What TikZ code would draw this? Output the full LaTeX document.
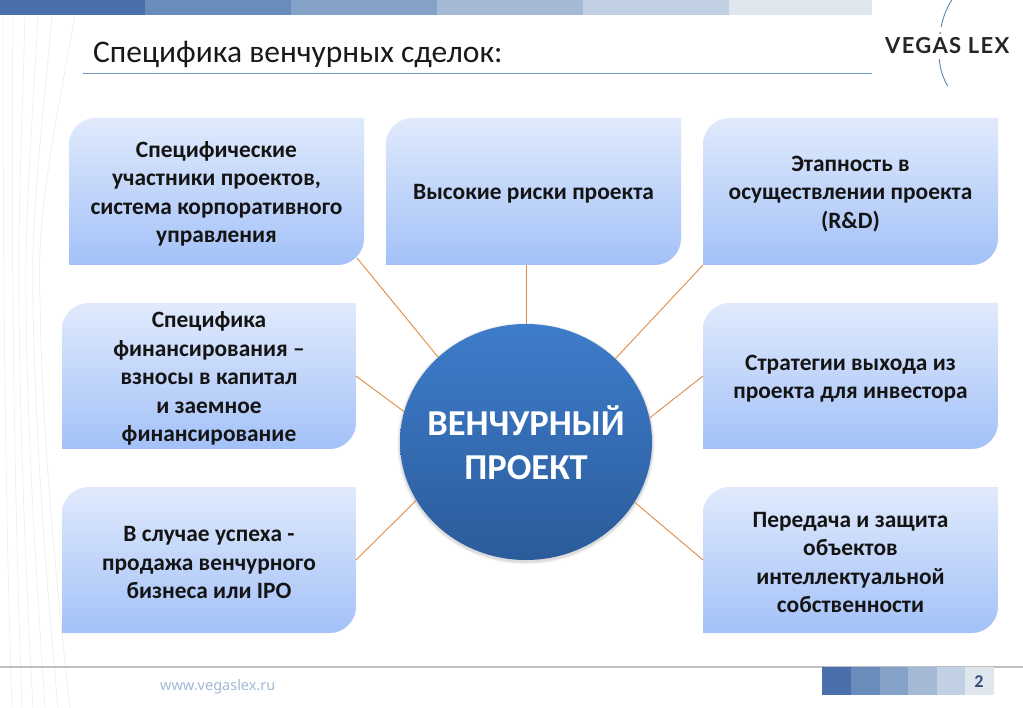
\documentclass[tikz,border=0pt]{standalone}
\usepackage{fontspec}
\setmainfont{Carlito}
\newfontfamily\logofont[LetterSpace=6]{Lato}
\newfontfamily\webfont{Noto Sans}
\usetikzlibrary{shapes.geometric}
\definecolor{boxtop}{HTML}{E0EAFC}
\definecolor{boxbottom}{HTML}{A3C1F8}
\definecolor{hubtop}{HTML}{3E7DCB}
\definecolor{hubbottom}{HTML}{2B5B9A}
\definecolor{linkc}{HTML}{E08B45}
\definecolor{stripeA}{HTML}{4A70AB}
\definecolor{stripeB}{HTML}{6A8CBB}
\definecolor{stripeC}{HTML}{84A2C8}
\definecolor{stripeD}{HTML}{A3B9D5}
\definecolor{stripeE}{HTML}{C1D1E3}
\definecolor{stripeF}{HTML}{DFE6EE}
\definecolor{ruleblue}{HTML}{6F9AC8}
\definecolor{arcblue}{HTML}{5F87AE}
\tikzset{
  boxfill/.style={top color=boxtop,bottom color=boxbottom,draw=none},
  boxlabel/.style={align=center,inner sep=0pt,font=\fontsize{23.4}{28.4}\selectfont\bfseries,text=black!92},
  hubnode/.style={ellipse,inner sep=0pt,minimum width=252pt,minimum height=236pt,top color=hubtop,bottom color=hubbottom},
  hublabel/.style={text=white,align=center,inner sep=0pt,font=\fontsize{36.5}{44.5}\selectfont\bfseries},
  link/.style={draw=linkc,line width=0.9pt},
  bgline/.style={line width=0.5pt,draw=#1},
}
\newcommand{\slidebox}[6]{%
  \pgfmathsetmacro{\bw}{#4-#2}\pgfmathsetmacro{\bh}{#5-#3}%
  \pgfmathsetmacro{\bcx}{(#4+#2)/2}\pgfmathsetmacro{\bcy}{(#5+#3)/2}%
  \pgfmathsetmacro{\bty}{\bcy+2.5}%
  \shade[boxfill] (#2,#5) -- ({#2},{#3+26}) .. controls +(0,-14) and +(-14,0) .. ({#2+26},{#3})
     -- (#4,#3) -- ({#4},{#5-26}) .. controls +(0,14) and +(14,0) .. ({#4-26},{#5}) -- cycle;
  \node[minimum width=\bw pt,minimum height=\bh pt,inner sep=0pt,outer sep=0pt] (#1) at (\bcx,\bcy) {};
  \node[boxlabel] (#1text) at (\bcx,\bty) {#6};
}
\begin{document}
\begin{tikzpicture}[x=1pt,y=-1pt]
\useasboundingbox (0,0) rectangle (1023,708);
\fill[white] (0,0) rectangle (1023,708);
% faint background lines on the left
\draw[bgline=black!9] (75,15) .. controls (55,130) and (36,210) .. (40,300) .. controls (42,440) and (58,600) .. (70,708);
\draw[bgline=black!9] (52,15) .. controls (42,130) and (31,210) .. (33,300) .. controls (35,440) and (48,600) .. (58,708);
\draw[bgline=blue!8!black!8] (38,15) .. controls (32,130) and (25,210) .. (26,300) .. controls (27,440) and (38,600) .. (45,708);
\draw[bgline=blue!8!black!8] (25,15) .. controls (22,130) and (18,210) .. (19,300) .. controls (20,440) and (27,600) .. (33,708);
\draw[bgline=blue!12!black!8] (13,15) .. controls (12,130) and (12,210) .. (13,300) .. controls (14,440) and (18,600) .. (22,708);
\draw[bgline=blue!12!black!8] (3,15) .. controls (3,130) and (3,440) .. (12,708);
% top stripe
\fill[stripeA] (0,0) rectangle (145,15);
\fill[stripeB] (145,0) rectangle (291,15);
\fill[stripeC] (291,0) rectangle (437,15);
\fill[stripeD] (437,0) rectangle (583,15);
\fill[stripeE] (583,0) rectangle (729,15);
\fill[stripeF] (729,0) rectangle (872,15);
% title
\node[anchor=base west,inner sep=0pt,font=\fontsize{31.5}{34}\selectfont,text=black!90] (title) at (93,63) {Специфика венчурных сделок:};
\coordinate (ruleL) at (83,73); \coordinate (ruleR) at (872,73);
\draw[ruleblue,line width=0.8pt] (ruleL) -- (ruleR);
% logo
\draw[arcblue,line width=0.9pt] (951.7,0) .. controls (946,9) and (943,18) .. (941,27);
\fill[arcblue] (940,33) circle (1pt);
\draw[arcblue,line width=0.9pt] (939.3,59) .. controls (940,69) and (943,78) .. (947.7,86);
\node[anchor=base west,inner sep=0pt,font=\logofont\bfseries\fontsize{22}{24}\selectfont,text=black!85] (logo) at (885,54) {VEGAS LEX};
% boxes
\slidebox{b1}{69}{118}{364}{265}{Специфические\\участники проектов,\\система корпоративного\\управления}
\slidebox{b2}{386}{118}{681}{265}{Высокие риски проекта}
\slidebox{b3}{703}{118}{998}{265}{Этапность в\\осуществлении проекта\\(R\&D)}
\slidebox{b4}{62}{303}{356}{449}{Специфика\\финансирования –\\взносы в капитал\\и заемное\\финансирование}
\slidebox{b5}{703}{303}{998}{449}{Стратегии выхода из\\проекта для инвестора}
\slidebox{b6}{62}{487}{356}{633}{В случае успеха -\\продажа венчурного\\бизнеса или IPO}
\slidebox{b7}{703}{487}{998}{633}{Передача и защита\\объектов\\интеллектуальной\\собственности}
% hub glow
\foreach \g/\o in {3/0.03,2/0.05,1/0.06}
  \fill[black,opacity=\o] (526,443.5) ellipse ({126+\g} and {118+\g});
\node[hubnode] (hub) at (526,442) {};
\node[hublabel] (hubtext) at (526,442.5) {ВЕНЧУРНЫЙ\\ПРОЕКТ};
% connectors
\coordinate (b1out) at (357,258);
\coordinate (b2out) at (526,265);
\draw[link] (b1out) -- (hub.136.7);
\draw[link] (b2out) -- (hub.90);
\draw[link] (b3.south west) -- (hub.43.4);
\draw[link] (b4.east) -- (hub.166);
\draw[link] (b5.west) -- (hub.11.4);
\draw[link] (b6.east) -- (hub.208.6);
\draw[link] (b7.west) -- (hub.331.6);
% footer
\draw[black!25,line width=1.2pt] (0,667) -- (1023,667);
\node[anchor=base west,inner sep=0pt,font=\webfont\fontsize{14.5}{16}\selectfont,text=stripeD] (web) at (160,690) {www.vegaslex.ru};
\fill[stripeA] (822,667) rectangle (851,695);
\fill[stripeB] (851,667) rectangle (880,695);
\fill[stripeC] (880,667) rectangle (908,695);
\fill[stripeD] (908,667) rectangle (937,695);
\fill[stripeE] (937,667) rectangle (965,695);
\fill[stripeF] (965,667) rectangle (994,695);
\node[inner sep=0pt,font=\fontsize{18}{18}\selectfont\bfseries,text=stripeA!70!black] (page) at (979,682) {2};
\end{tikzpicture}
\end{document}
